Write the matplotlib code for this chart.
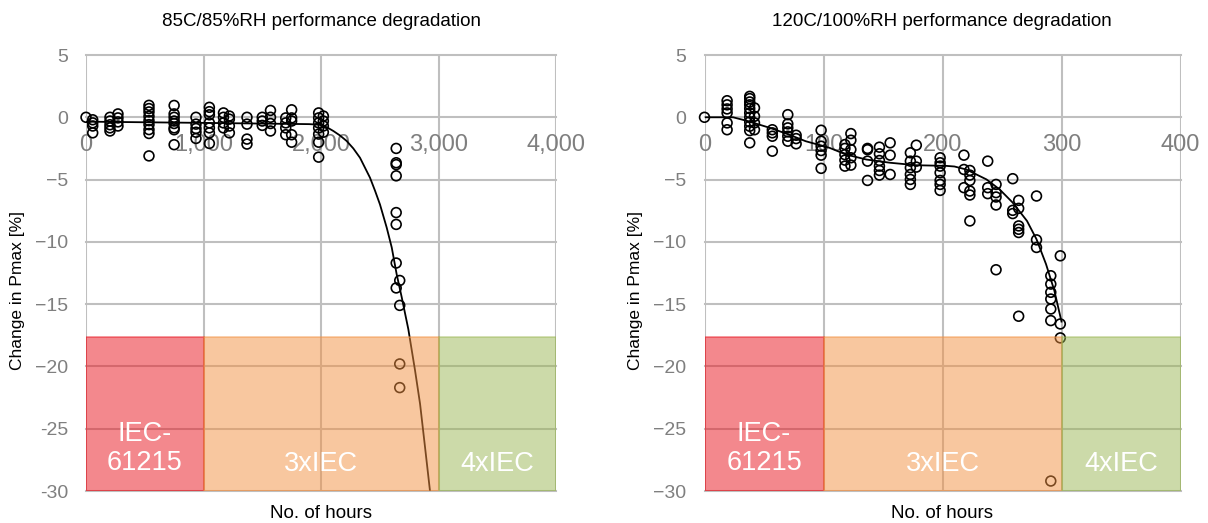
import matplotlib
matplotlib.use("Agg")
import matplotlib.pyplot as plt
from matplotlib.patches import Rectangle

plt.rcParams['font.family'] = ['Liberation Sans', 'DejaVu Sans']

# 85C/85%RH: measured points, grouped by inspection time
left_hours = [0, 57, 204, 272, 536, 750, 936, 1050, 1170, 1220, 1370, 1500,
              1570, 1700, 1750, 1980, 2020, 2640, 2670]
left_values = [
    [0.0],
    [-0.2, -0.45, -0.7, -1.25],
    [0.0, -0.3, -0.6, -0.85, -1.1],
    [0.27, -0.05, -0.37, -0.7],
    [0.96, 0.7, 0.43, 0.08, -0.27, -0.59, -0.99, -1.3, -3.1],
    [0.95, 0.27, 0.0, -0.3, -0.5, -0.85, -1.0, -2.2],
    [0.0, -0.55, -0.9, -1.2, -1.7],
    [0.8, 0.45, 0.2, -0.45, -0.85, -1.25, -2.1],
    [0.35, 0.0, -0.45, -0.85],
    [0.1, -0.15, -0.7, -1.25],
    [0.0, -0.55, -1.75, -2.15],
    [0.0, -0.3, -0.65],
    [0.55, 0.0, -0.5, -1.1],
    [-0.05, -0.45, -0.85, -1.4],
    [0.6, -0.05, -0.3, -1.4, -2.0],
    [0.35, -0.05, -0.45, -0.85, -1.35, -2.0, -3.2],
    [0.1, -0.3, -0.7, -1.2],
    [-2.5, -3.65, -3.8, -4.7, -7.65, -8.6, -11.7, -13.7],
    [-13.1, -15.1, -19.8, -21.7],
]
left_fit_hours = [0, 1000, 1900, 1990, 2050, 2105, 2160, 2218, 2275, 2332, 2417,
                  2460, 2502, 2559, 2602, 2644, 2687, 2743, 2800, 2843, 2885, 2930]
left_fit_values = [-0.35, -0.45, -0.55, -0.6, -0.8, -1.1, -1.45, -1.9, -2.5, -3.25,
                   -4.85, -5.9, -7.0, -8.85, -10.45, -12.6, -14.45, -17.0, -20.3,
                   -23.0, -26.45, -30.2]

# 120C/100%RH
right_hours = [0, 19, 38, 42, 57, 70, 77, 98, 118, 123, 137, 147, 156, 173, 178,
               198, 218, 223, 238, 245, 259, 264, 279, 291, 299]
right_values = [
    [0.0],
    [1.33, 1.0, 0.67, 0.35, -0.45, -1.0],
    [1.68, 1.5, 1.23, 1.0, 0.7, 0.35, 0.0, -0.37, -0.72, -1.07, -2.05],
    [0.75, 0.08, -0.45, -1.0],
    [-1.0, -1.25, -1.52, -2.72],
    [0.21, -0.53, -0.85, -1.17, -1.52, -1.92],
    [-1.44, -1.71, -2.13],
    [-1.04, -1.92, -2.32, -2.67, -3.04, -4.1],
    [-2.19, -2.5, -3.0, -3.44, -3.92],
    [-1.31, -1.84, -2.59, -3.25, -3.84],
    [-2.5, -2.6, -3.52, -5.07],
    [-2.4, -2.93, -3.47, -3.92, -4.27, -4.64],
    [-2.05, -3.04, -4.59],
    [-2.85, -3.52, -4.05, -4.59, -4.99, -5.39],
    [-2.24, -3.52, -4.0],
    [-3.25, -3.65, -3.92, -4.45, -5.07, -5.39, -5.87],
    [-3.04, -4.19, -5.65],
    [-4.27, -4.64, -5.07, -5.92, -6.24, -8.32],
    [-3.52, -5.65, -6.13],
    [-5.39, -6.05, -6.4, -7.04, -12.24],
    [-4.93, -7.47, -7.73],
    [-6.67, -7.31, -8.72, -8.99, -9.25, -15.97],
    [-6.32, -9.84, -10.45],
    [-12.72, -13.39, -14.05, -14.59, -15.39, -16.32, -29.2],
    [-11.12, -16.59, -17.71],
]
right_fit_hours = [0, 24, 35, 55, 71, 85, 105, 119, 136, 156, 178, 203, 210, 220,
                   237, 248, 259, 271, 279, 287, 294, 300]
right_fit_values = [0.0, 0.0, -0.27, -0.85, -1.39, -1.92, -2.45, -2.99, -3.39, -3.65,
                    -3.85, -3.9, -3.95, -4.19, -4.99, -5.79, -6.85, -8.32, -9.79,
                    -11.79, -13.92, -16.4]

left_yticklabels = ['5', '0', '\u22125', '\u221210', '\u221215', '\u221220', '-25', '-30']
right_yticklabels = ['5', '0', '\u22125', '\u221210', '\u221215', '\u221220', '\u221225', '\u221230']
zone_labels = ['IEC-\n61215', '3xIEC', '4xIEC']
zone_colors = ['#e9131d', '#f39141', '#9bb755']
zone_top = -17.6

GRID = '#bfbfbf'
TICK = '#7f7f7f'


def panel(ax, hours, values, fit_x, fit_y, xmax, xfmt, yticklabels, zones):
    xs = [h for h, vs in zip(hours, values) for _ in vs]
    ys = [v for vs in values for v in vs]
    ax.set_xlim(0, xmax)
    ax.set_ylim(-30, 5)
    ax.set_xticks(range(0, xmax + 1, xmax // 4))
    ax.set_xticklabels([xfmt.format(t) for t in range(0, xmax + 1, xmax // 4)])
    ax.set_yticks(range(5, -31, -5))
    ax.set_yticklabels(yticklabels)
    ax.grid(True, color=GRID, lw=1.5, zorder=0)
    ax.set_axisbelow(True)
    for ln in ax.get_xgridlines() + ax.get_ygridlines():
        ln.set_clip_on(False)
    for s in ['top', 'right', 'left']:
        ax.spines[s].set_visible(False)
    ax.spines['bottom'].set_position(('data', 0))
    ax.spines['bottom'].set_visible(False)
    ax.tick_params(axis='both', length=0, labelcolor=TICK)
    ax.tick_params(axis='x', pad=12, labelsize=17)
    ax.tick_params(axis='y', pad=13, labelsize=14)

    ax.plot(fit_x, fit_y, color='black', lw=1.3, zorder=2, clip_on=True)
    ax.scatter(xs, ys, s=50, facecolors='none', edgecolors='black', linewidths=1.2,
               zorder=2, clip_on=False)

    for (x0, x1), lab, col in zip(zones, zone_labels, zone_colors):
        ax.add_patch(Rectangle((x0, -30), x1 - x0, zone_top + 30, facecolor=col,
                               edgecolor=col, lw=1.2, alpha=0.5, zorder=3))
        ax.text((x0 + x1) / 2, -27.8 if '\n' not in lab else -26.6, lab, color='white',
                fontsize=19.5, ha='center', va='center', zorder=4, linespacing=1.15)


fig = plt.figure(figsize=(12.08, 5.23), dpi=100)
W, H = 1208, 523
ax1 = fig.add_axes([86 / W, 1 - 491 / H, 470 / W, 436 / H])
ax2 = fig.add_axes([704.5 / W, 1 - 491 / H, 476 / W, 436 / H])

panel(ax1, left_hours, left_values, left_fit_hours, left_fit_values, 4000, '{:,}',
      left_yticklabels, [(0, 1000), (1000, 3000), (3000, 4000)])
panel(ax2, right_hours, right_values, right_fit_hours, right_fit_values, 400, '{}',
      right_yticklabels, [(0, 100), (100, 300), (300, 400)])

fig.text(321 / W, 1 - 22 / H, '85C/85%RH performance degradation', ha='center',
         va='center', fontsize=13.5)
fig.text(942 / W, 1 - 22 / H, '120C/100%RH performance degradation', ha='center',
         va='center', fontsize=13.5)
fig.text(321 / W, 1 - 514 / H, 'No. of hours', ha='center', va='center', fontsize=13.5)
fig.text(942 / W, 1 - 514 / H, 'No. of hours', ha='center', va='center', fontsize=13.5)
fig.text(18 / W, 1 - 290 / H, 'Change in Pmax [%]', ha='center', va='center',
         rotation=90, fontsize=12.5)
fig.text(635 / W, 1 - 290 / H, 'Change in Pmax [%]', ha='center', va='center',
         rotation=90, fontsize=12.5)

fig.savefig('out.png', dpi=100)
